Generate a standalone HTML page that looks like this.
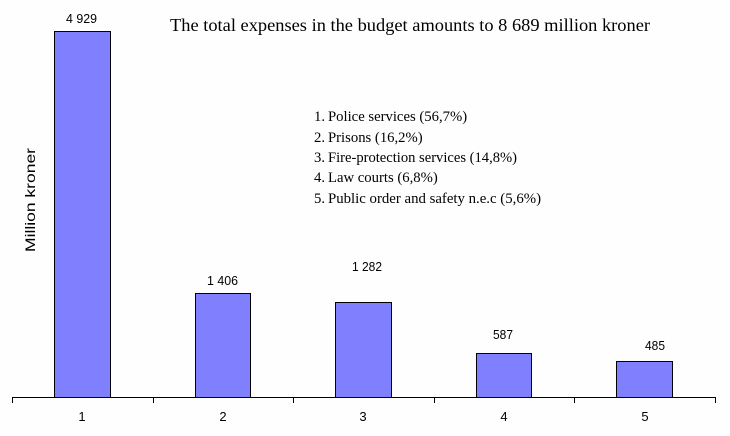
<!DOCTYPE html>
<html><head><meta charset="utf-8"><style>
html,body{margin:0;padding:0;background:#fdfefd;}
svg{display:block;}
</style></head><body>
<svg width="730" height="436" viewBox="0 0 730 436" xmlns="http://www.w3.org/2000/svg">
<rect x="0" y="0" width="730" height="436" fill="#fdfefd"/>
<g fill="#8080ff" stroke="#000" stroke-width="1">
<rect x="54.5" y="31.5" width="56" height="366"/>
<rect x="195.5" y="293.5" width="55" height="104"/>
<rect x="335.5" y="302.5" width="56" height="95"/>
<rect x="476.5" y="353.5" width="55" height="44"/>
<rect x="616.5" y="361.5" width="56" height="36"/>
</g>
<g stroke="#000" stroke-width="1" fill="none">
<line x1="12" y1="397.5" x2="716" y2="397.5"/>
<line x1="12.5" y1="397" x2="12.5" y2="403"/>
<line x1="153.5" y1="397" x2="153.5" y2="403"/>
<line x1="293.5" y1="397" x2="293.5" y2="403"/>
<line x1="434.5" y1="397" x2="434.5" y2="403"/>
<line x1="574.5" y1="397" x2="574.5" y2="403"/>
<line x1="715.5" y1="397" x2="715.5" y2="403"/>
</g>
<g font-family="'Liberation Sans', Arial, sans-serif" font-size="13" fill="#000" text-anchor="middle">
<text x="81.5" y="23" textLength="31" lengthAdjust="spacingAndGlyphs">4 929</text>
<text x="222.5" y="285" textLength="31" lengthAdjust="spacingAndGlyphs">1 406</text>
<text x="367" y="271" textLength="30" lengthAdjust="spacingAndGlyphs">1 282</text>
<text x="503" y="339" textLength="20" lengthAdjust="spacingAndGlyphs">587</text>
<text x="655" y="350" textLength="20" lengthAdjust="spacingAndGlyphs">485</text>
<text x="82" y="421">1</text>
<text x="223" y="421">2</text>
<text x="363" y="421">3</text>
<text x="504" y="421">4</text>
<text x="645" y="421">5</text>
</g>
<text transform="translate(35,200) rotate(-90)" font-family="'Liberation Sans', Arial, sans-serif" font-size="14" text-anchor="middle" textLength="104" lengthAdjust="spacingAndGlyphs" fill="#000">Million kroner</text>
<text x="170" y="31" font-family="'Liberation Serif', 'Times New Roman', serif" font-size="18" textLength="480" lengthAdjust="spacingAndGlyphs" fill="#000">The total expenses in the budget amounts to 8 689 million kroner</text>
<g font-family="'Liberation Serif', 'Times New Roman', serif" font-size="14.7" fill="#000">
<text x="314" y="121">1.</text>
<text x="328" y="121">Police services (56,7%)</text>
<text x="314" y="142">2.</text>
<text x="328" y="142">Prisons (16,2%)</text>
<text x="314" y="162">3.</text>
<text x="328" y="162" textLength="189" lengthAdjust="spacingAndGlyphs">Fire-protection services (14,8%)</text>
<text x="314" y="182">4.</text>
<text x="328" y="182">Law courts (6,8%)</text>
<text x="314" y="203">5.</text>
<text x="328" y="203" textLength="213" lengthAdjust="spacingAndGlyphs">Public order and safety n.e.c (5,6%)</text>
</g>
</svg>
</body></html>
